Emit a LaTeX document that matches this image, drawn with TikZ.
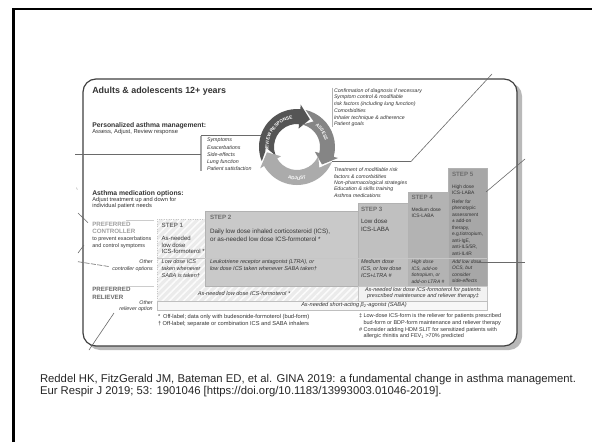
\documentclass[tikz,border=0pt]{standalone}
\usepackage{fontspec}
\setmainfont{Liberation Sans}
\usetikzlibrary{patterns,patterns.meta,decorations.text}
\definecolor{txt}{HTML}{333333}
\definecolor{lbl}{HTML}{A0A0A0}
\definecolor{rel}{HTML}{6A6A6A}
\definecolor{stp}{HTML}{6E6E6E}
\definecolor{s2}{HTML}{C9C9C9}
\definecolor{s3}{HTML}{C0C0C0}
\definecolor{s4}{HTML}{B3B3B3}
\definecolor{s5}{HTML}{A7A7A7}
\definecolor{arrD}{HTML}{555555}
\definecolor{arrM}{HTML}{858585}
\definecolor{arrL}{HTML}{ABABAB}
\definecolor{co}{HTML}{6A6A6A}
\newcommand\myfs[2]{\fontsize{#1}{#2}\selectfont}
\newcommand\cycfont{\fontsize{4.6}{5}\selectfont\bfseries}
% visual angles: #1 start (tail), #2 end (head base), #3 colour; clockwise
\newcommand\cycarrow[3]{%
  \fill[#3] ({-(#1)}:38) arc[start angle={-(#1)}, end angle={-(#2)}, radius=38]
    -- ({-(#2)}:42.5) -- ({-(#2)+20}:30.5) -- ({-(#2)}:18.5) -- ({-(#2)}:23)
    arc[start angle={-(#2)}, end angle={-(#1)}, radius=23]
    -- ({-(#1)+20}:30.5) -- cycle;}
\begin{document}
\begin{tikzpicture}[x=1pt,y=-1pt,
  every node/.style={inner sep=0pt,outer sep=0pt,text=txt},
  lst/.style={anchor=north west, align=left},
  lstr/.style={anchor=north east, align=right},
  lstc/.style={anchor=north, align=center},
  steplbl/.style={anchor=north west, font=\myfs{6.2}{7}\bfseries, text=stp},
  callout/.style={draw=co, line width=0.6pt},
  stepbox/.style={draw=gray!60, line width=0.5pt}]
\useasboundingbox (0,0) rectangle (592,442);
\fill[white] (0,0) rectangle (592,442);
% slide frame
\draw[line width=2.4pt, black] (13.5,442) -- (13.5,9.2) -- (592,9.2);

% figure frame with shadow
\fill[gray!55, rounded corners=13pt] (87,83) rectangle (522,350);
\filldraw[fill=white, draw=black!75, line width=1.2pt, rounded corners=13pt] (83,79) rectangle (517,346);

% headings
\node[lst, font=\myfs{8.9}{10}\bfseries] (title) at (92.3,86.8) {Adults \& adolescents 12+ years};
\node[lst, font=\myfs{6.8}{8}\bfseries] (pam) at (92.3,122.1) {Personalized asthma management:};
\node[lst, font=\myfs{5.8}{7}] (pamsub) at (92.3,129.6) {Assess, Adjust, Review response};
\node[lst, font=\myfs{6.8}{8}\bfseries] (amo) at (92.3,190.3) {Asthma medication options:};
\node[lst, font=\myfs{5.7}{6.3}] (amosub) at (92.3,197.2) {Adjust treatment up and down for\\individual patient needs};
\node[lst, font=\myfs{6.2}{7.4}\bfseries, text=lbl] (pc) at (92.3,222.1) {PREFERRED\\CONTROLLER};
\node[lst, font=\myfs{5.4}{7.4}] (pcsub) at (92.3,236.4) {to prevent exacerbations\\and control symptoms};
\node[lstr, font=\myfs{5.3}{6.6}\itshape] (oc) at (152.7,259.8) {Other\\controller options};
\node[lst, font=\myfs{6.2}{8}\bfseries, text=rel] (pr) at (92.3,287.1) {PREFERRED\\RELIEVER};
\node[lstr, font=\myfs{5.3}{5.6}\itshape] (or) at (152.7,300.8) {Other\\reliever option};
\draw[gray!40, line width=0.8pt] (126,220.5) -- (154,220.5);
\draw[gray!40, line width=0.8pt] (126,286.3) -- (154,286.3);

% cycle lists
\draw[gray!70, line width=1.2pt] (201,135.5) -- (201,170.5);
\draw[co, line width=0.8pt] (201,135.5) -- (261,135.5);
\node[lst, font=\myfs{5.3}{7.25}\itshape] (symp) at (207,138.1)
  {Symptoms\\Exacerbations\\Side-effects\\Lung function\\Patient satisfaction};
\draw[gray!60, line width=0.8pt] (332.3,87.5) -- (332.3,127);
\node[lst, font=\myfs{5.2}{6.74}\itshape] (assess) at (334,88.4)
  {Confirmation of diagnosis if necessary\\Symptom control \& modifiable\\risk factors (including lung function)\\Comorbidities\\Inhaler technique \& adherence\\Patient goals};
\node[lst, font=\myfs{5.2}{6.3}\itshape] (adjust) at (334,168.1)
  {Treatment of modifiable risk\\factors \& comorbidities\\Non-pharmacological strategies\\Education \& skills training\\Asthma medications};

% cycle
\begin{scope}[shift={(297,147)}]
  \cycarrow{202}{85}{arrD}
  \cycarrow{77}{-15}{arrM}
  \cycarrow{-23}{-150}{arrL}
  \path[decorate, decoration={text along path, text align=center, text color=white,
     text={|\cycfont|REVIEW RESPONSE}}] (-200:28.5) arc[start angle=-200, end angle=-88, radius=28.5];
  \path[decorate, decoration={text along path, text align=center, text color=white,
     text={|\cycfont|ASSESS}}] (-62:28.5) arc[start angle=-62, end angle=0, radius=28.5];
  \path[decorate, decoration={text along path, text align=center, text color=white,
     text={|\cycfont|ADJUST}}] (-235:33) arc[start angle=-235, end angle=-305, radius=33];
\end{scope}

% step area
\fill[gray!16] (157,219) -- (205,219) -- (205,286) -- (358,286) -- (358,301) -- (157,301) -- cycle;
\fill[pattern={Lines[angle=45,distance=5pt,line width=1.6pt]}, pattern color=white!70!gray!10]
  (157,219) -- (205,219) -- (205,286) -- (358,286) -- (358,301) -- (157,301) -- cycle;
\draw[gray!45, dotted] (157,301) -- (157,219) -- (205,219);
\filldraw[fill=s2, stepbox] (205,211.5) rectangle (358,286);
\filldraw[fill=s3, stepbox] (358,203.5) rectangle (408.5,286);
\filldraw[fill=s4, stepbox] (408.5,192) rectangle (448.5,286);
\filldraw[fill=s5, stepbox] (448.5,168.5) rectangle (487,286);
\filldraw[fill=gray!10, draw=gray!45] (358,286) rectangle (487,301);
\filldraw[fill=gray!6, draw=gray!50] (157,301) rectangle (487,310.5);
\draw[gray!45, line width=0.5pt] (157,258.3) -- (487,258.3);

% step labels
\node[steplbl] (st1) at (161.7,222.8) {STEP 1};
\node[steplbl] (st2) at (210,215.1) {STEP 2};
\node[steplbl] (st3) at (361,206.8) {STEP 3};
\node[steplbl] (st4) at (411.5,194.8) {STEP 4};
\node[steplbl] (st5) at (452,171.8) {STEP 5};

% preferred controller texts
\node[lst, font=\myfs{6}{6.7}] (p1) at (161.7,236.1) {As-needed\\low dose\\ICS-formoterol *};
\node[lst, font=\myfs{6.3}{8}] (p2) at (210,228.7) {Daily low dose inhaled corticosteroid (ICS),\\or as-needed low dose ICS-formoterol *};
\node[lst, font=\myfs{6.2}{7.6}] (p3) at (361,219.5) {Low dose\\ICS-LABA};
\node[lst, font=\myfs{4.9}{6}] (p4) at (411.5,208.2) {Medium dose\\ICS-LABA};
\node[lst, font=\myfs{4.9}{6}] (p5) at (452,184.9) {High dose\\ICS-LABA};
\node[lst, font=\myfs{4.9}{6.45}] (p5b) at (452,199.9) {Refer for\\phenotypic\\assessment\\\textpm{} add-on\\therapy,\\e.g.tiotropium,\\anti-IgE,\\anti-IL5/5R,\\anti-IL4R};

% other controller texts
\node[lst, font=\myfs{5.5}{6.7}\itshape] (o1) at (161.7,259.7) {Low dose ICS\\taken whenever\\SABA is taken\textdagger};
\node[lst, font=\myfs{5.5}{6.7}\itshape] (o2) at (210,259.7) {Leukotriene receptor antagonist (LTRA), or\\low dose ICS taken whenever SABA taken\textdagger};
\node[lst, font=\myfs{5.5}{7.1}\itshape] (o3) at (361,259.7) {Medium dose\\ICS, or low dose\\ICS+LTRA \#};
\node[lst, font=\myfs{4.9}{6.7}\itshape] (o4) at (411.5,259.9) {High dose\\ICS, add-on\\tiotropium, or\\add-on LTRA \#};
\node[lst, font=\myfs{4.9}{6.4}\itshape] (o5) at (452,259.9) {Add low dose\\OCS, but\\consider\\side-effects};

% relievers
\node[font=\myfs{5.6}{6.5}\itshape] (r12) at (244,293.5) {As-needed low dose ICS-formoterol *};
\node[lstc, font=\myfs{5.5}{6.3}\itshape] (r35) at (423,287.1) {As-needed low dose ICS-formoterol for patients\\prescribed maintenance and reliever therapy\textdaggerdbl};
\node[font=\myfs{5.6}{6.5}\itshape] (saba) at (354,305.5) {As-needed short-acting β\textsubscript{2}-agonist (SABA)};

% footnotes
\node[lst, font=\myfs{5.7}{7.7}] (fn1) at (158,313.9) {*\enspace Off-label; data only with budesonide-formoterol (bud-form)\\\textdagger\ Off-label; separate or combination ICS and SABA inhalers};
\node[lst, font=\myfs{5.5}{6.67}] (fn2) at (359,313.9) {\textdaggerdbl\ Low-dose ICS-form is the reliever for patients prescribed\\\phantom{\textdaggerdbl\ }bud-form or BDP-form maintenance and reliever therapy\\\#\ Consider adding HDM SLIT for sensitized patients with\\\phantom{\#\ }allergic rhinitis and FEV\textsubscript{1} >70\% predicted};

% callout lines
\coordinate (a1) at (75,154.5); \coordinate (a2) at (201,154.5);
\draw[co, line width=0.9pt] (a1) -- (a2);
\coordinate (b1) at (492,74); \coordinate (b2) at (411,161.5); \coordinate (b3) at (332,161.5);
\draw[callout] (b1) -- (b2) -- (b3);
\coordinate (c1) at (525,159); \coordinate (c2) at (486,192);
\draw[callout] (c1) -- (c2);
\coordinate (d1) at (477,262); \coordinate (d2) at (525,262);
\draw[callout] (d1) -- (d2);
\coordinate (e1) at (78,213); \coordinate (e2) at (88,222.7);
\draw[callout] (e1) -- (e2);
\coordinate (f1) at (78,253); \coordinate (f2) at (84,245);
\draw[callout] (f1) -- (f2);
\coordinate (g1) at (78,261.7); \coordinate (g2) at (110,266.7);
\draw[callout, dash pattern=on 5pt off 1.5pt] (g1) -- (g2);
\coordinate (h1) at (89,350); \coordinate (h2) at (114,313);
\draw[callout] (h1) -- (h2);
\coordinate (i1) at (76.5,187.5); \coordinate (i2) at (77.3,189.8);
\draw[gray!60, line width=0.5pt] (i1) -- (i2);

% citation
\node[lst, font=\myfs{11.3}{12.3}, text=black!85] (cite) at (40,374.2)
  {Reddel HK, FitzGerald JM, Bateman ED, et al. GINA 2019: a fundamental change in asthma management.\\Eur Respir J 2019; 53: 1901046 [https://doi.org/10.1183/13993003.01046-2019].};
\end{tikzpicture}
\end{document}
